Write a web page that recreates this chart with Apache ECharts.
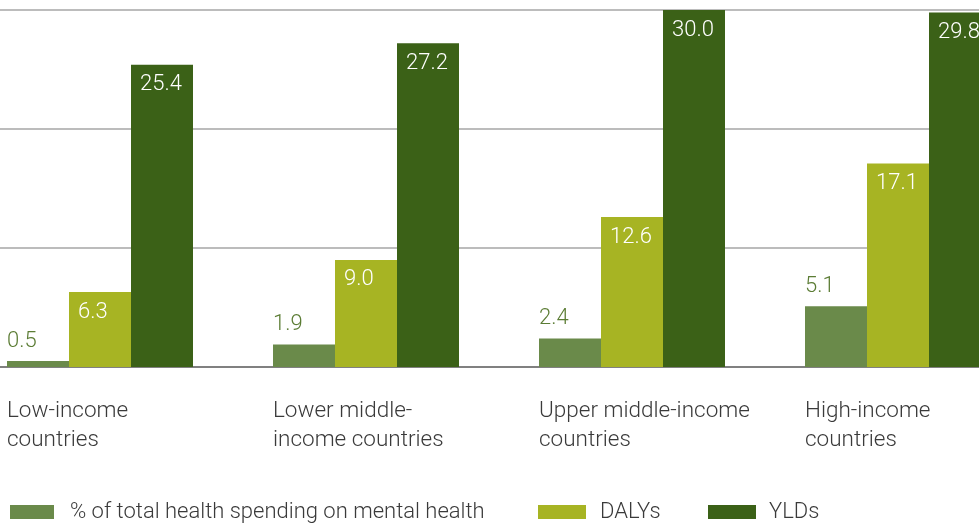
<!DOCTYPE html>
<html><head><meta charset="utf-8">
<script src="https://cdn.jsdelivr.net/npm/echarts@6/dist/echarts.min.js"></script>
<style>html,body{margin:0;padding:0;background:#fff}#c{width:979px;height:523px}</style>
</head><body><div id="c"></div>
<script>
var categories = ['Low-income\ncountries', 'Lower middle-\nincome countries', 'Upper middle-income\ncountries', 'High-income\ncountries'];
var spending = [0.5, 1.9, 2.4, 5.1];
var dalys = [6.3, 9.0, 12.6, 17.1];
var ylds = [25.4, 27.2, 30.0, 29.8];
var seriesNames = ['% of total health spending on mental health', 'DALYs', 'YLDs'];
var colors = ['#6a8a4a', '#a7b423', '#3b6117'];
var FONT = 'Roboto';
var FW = 300;

var chart = echarts.init(document.getElementById('c'));
function fmt(p){ return p.value.toFixed(1); }
var insideLabel = {show:true, position:'insideTopLeft', distance:9, color:'#fff', fontFamily:FONT, fontWeight:FW, fontSize:22, formatter:fmt};
var legendText = {fontFamily:FONT, fontWeight:FW, fontSize:22, color:'#3a3a3a'};
chart.setOption({
  animation:false,
  grid:[
    {left:-33, width:1064, top:10, height:357, outerBoundsMode:'none', containLabel:false},
    {left:-126, width:1064, top:10, height:357, outerBoundsMode:'none', containLabel:false}
  ],
  xAxis:[
    {type:'category', gridIndex:0, data:categories, axisTick:{show:false}, axisLabel:{show:false},
     axisLine:{lineStyle:{color:'#808080', width:2}}},
    {type:'category', gridIndex:1, data:categories, axisTick:{show:false}, axisLine:{show:false},
     axisLabel:{align:'left', margin:30, color:'#3a3a3a', fontFamily:FONT, fontWeight:FW, fontSize:22.5, lineHeight:29, interval:0}}
  ],
  yAxis:[
    {type:'value', gridIndex:0, min:0, max:30, interval:10, axisLabel:{show:false}, axisLine:{show:false}, axisTick:{show:false},
     splitLine:{lineStyle:{color:'#bcbcbc', width:2}}},
    {type:'value', gridIndex:1, min:0, max:30, show:false, splitLine:{show:false}}
  ],
  legend:[
    {data:[seriesNames[0]], left:10, top:501, padding:0, itemWidth:44, itemHeight:14, icon:'rect', textStyle:Object.assign({padding:[0,0,0,11]}, legendText)},
    {data:[seriesNames[1]], left:538, top:501, padding:0, itemWidth:48, itemHeight:14, icon:'rect', textStyle:Object.assign({padding:[0,0,0,9]}, legendText)},
    {data:[seriesNames[2]], left:708, top:501, padding:0, itemWidth:48, itemHeight:14, icon:'rect', textStyle:Object.assign({padding:[0,0,0,8]}, legendText)}
  ],
  series:[
    {name:seriesNames[0], type:'bar', data:spending, barWidth:62, barGap:'0%', itemStyle:{color:colors[0]},
     label:{show:true, position:[0,-31], color:'#5b7c34', fontFamily:FONT, fontWeight:FW, fontSize:22, formatter:fmt}},
    {name:seriesNames[1], type:'bar', data:dalys, barWidth:62, barGap:'0%', itemStyle:{color:colors[1]}, label:insideLabel},
    {name:seriesNames[2], type:'bar', data:ylds, barWidth:62, barGap:'0%', itemStyle:{color:colors[2]}, label:insideLabel}
  ]
});
</script></body></html>
